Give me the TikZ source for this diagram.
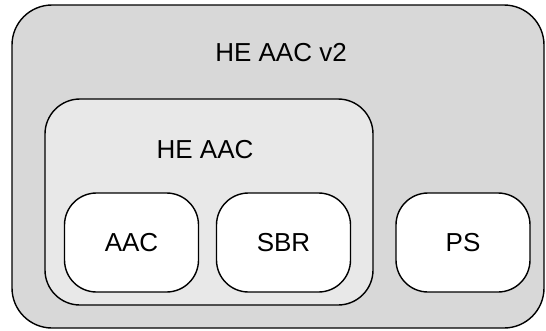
\documentclass[tikz,border=0pt]{standalone}
\usepackage{fontspec}
\setmainfont{Liberation Sans}
\usepackage{xcolor}
\usepackage{tikz}
\usetikzlibrary{positioning}

\definecolor{outergray}{HTML}{D8D8D8}
\definecolor{innergray}{HTML}{E8E8E8}

\tikzset{
    group/.style={draw, line width=1.4pt, rounded corners=#1},
    codec/.style={draw, fill=white, line width=1.4pt, rounded corners=32pt,
        minimum width=134pt, minimum height=99pt, font=\fontsize{26}{30}\selectfont},
    title/.style={font=\fontsize{26}{30}\selectfont, inner sep=0pt}
}

\begin{document}
\begin{tikzpicture}[x=1pt, y=-1pt]
    \useasboundingbox (0,0) rectangle (546,330);

    % HE AAC v2 container
    \node[group=40pt, fill=outergray, minimum width=532pt, minimum height=323pt] (v2box) at (278,166.5) {};
    \node[title] (v2label) at (281,53) {HE AAC v2};

    % HE AAC container
    \node[group=35pt, fill=innergray, minimum width=328pt, minimum height=206pt] (hebox) at (209,202) {};
    \node[title] (helabel) at (205,150) {HE AAC};

    % Tools
    \node[codec] (aac) at (131.5,242.5) {AAC};
    \node[codec] (sbr) at (283.5,242.5) {SBR};
    \node[codec] (ps) at (463,242.5) {PS};
\end{tikzpicture}
\end{document}
